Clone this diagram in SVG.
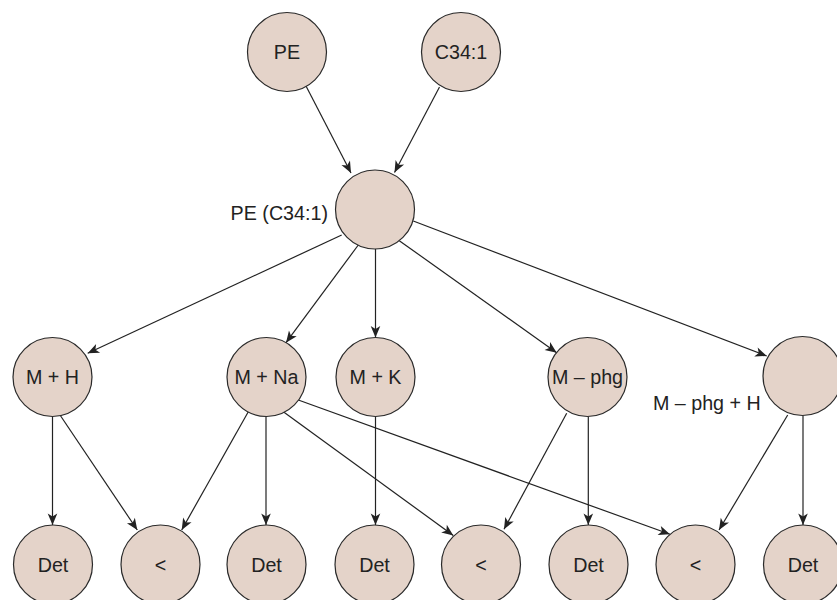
<svg xmlns="http://www.w3.org/2000/svg" width="837" height="600" viewBox="0 0 837 600">
<defs>
<style>
.node circle{fill:#e4d3c9;stroke:#2a2a2a;stroke-width:1.2}
text{font-family:"Liberation Sans",Arial,sans-serif;font-size:19.7px;fill:#222}
.c{text-anchor:middle}
.e{text-anchor:end}
#edges line{stroke:#222;stroke-width:1.2;marker-end:url(#arr)}
</style>
<marker id="arr" viewBox="-12 -6 13 12" refX="0" refY="0" markerWidth="13" markerHeight="12" markerUnits="userSpaceOnUse" orient="auto">
<path d="M0,0 L-11.5,-4.8 L-8.5,0 L-11.5,4.8 Z" fill="#222"/>
</marker>
</defs>
<rect width="837" height="600" fill="#fff"/>
<g id="edges">
<line x1="306" y1="86" x2="351" y2="173"/>
<line x1="439.5" y1="87" x2="394.5" y2="172.5"/>
<line x1="341.7" y1="235" x2="87.7" y2="353.3"/>
<line x1="358.3" y1="245" x2="286" y2="342.7"/>
<line x1="375.5" y1="249" x2="375.5" y2="337.5"/>
<line x1="399.3" y1="240.7" x2="556.7" y2="352.7"/>
<line x1="413.3" y1="221" x2="766.7" y2="356"/>
<line x1="52.5" y1="416" x2="52.5" y2="525"/>
<line x1="60" y1="415" x2="137.3" y2="530"/>
<line x1="248.3" y1="411.7" x2="181.7" y2="530"/>
<line x1="266" y1="416.5" x2="266" y2="525"/>
<line x1="283.3" y1="411.7" x2="453.3" y2="535.5"/>
<line x1="298.3" y1="400" x2="670" y2="534.3"/>
<line x1="375.5" y1="416.5" x2="375.5" y2="525"/>
<line x1="566.7" y1="413.3" x2="504" y2="529.3"/>
<line x1="588.3" y1="416.5" x2="588.3" y2="525"/>
<line x1="787.7" y1="415" x2="719" y2="530"/>
<line x1="803" y1="415.5" x2="803" y2="525"/>
</g>
<g id="n-pe" class="node"><circle cx="287" cy="52" r="39.5"/><text class="c" x="287" y="59">PE</text></g>
<g id="n-c34" class="node"><circle cx="461" cy="52" r="39.5"/><text class="c" x="461" y="59">C34:1</text></g>
<g id="n-pec34" class="node"><circle cx="375" cy="209.5" r="39.5"/><text class="e" x="328" y="220">PE (C34:1)</text></g>
<g id="n-mh" class="node"><circle cx="52.5" cy="377" r="39.5"/><text class="c" x="52.5" y="384">M + H</text></g>
<g id="n-mna" class="node"><circle cx="266.5" cy="377" r="39.5"/><text class="c" x="266.5" y="384">M + Na</text></g>
<g id="n-mk" class="node"><circle cx="375.5" cy="377" r="39.5"/><text class="c" x="375.5" y="384">M + K</text></g>
<g id="n-mphg" class="node"><circle cx="587.5" cy="377" r="39.5"/><text class="c" x="587.5" y="384">M – phg</text></g>
<g id="n-mphgh" class="node"><circle cx="802.5" cy="376" r="39.5"/><text class="e" x="760.7" y="410">M – phg + H</text></g>
<g id="n-det1" class="node"><circle cx="53" cy="564.5" r="39.5"/><text class="c" x="53" y="572">Det</text></g>
<g id="n-lt1" class="node"><circle cx="160.5" cy="564.5" r="39.5"/><text class="c" x="160.5" y="572">&lt;</text></g>
<g id="n-det2" class="node"><circle cx="266.5" cy="564.5" r="39.5"/><text class="c" x="266.5" y="572">Det</text></g>
<g id="n-det3" class="node"><circle cx="374.5" cy="564.5" r="39.5"/><text class="c" x="374.5" y="572">Det</text></g>
<g id="n-lt2" class="node"><circle cx="481" cy="564.5" r="39.5"/><text class="c" x="481" y="572">&lt;</text></g>
<g id="n-det4" class="node"><circle cx="588.5" cy="564.5" r="39.5"/><text class="c" x="588.5" y="572">Det</text></g>
<g id="n-lt3" class="node"><circle cx="695.5" cy="564.5" r="39.5"/><text class="c" x="695.5" y="572">&lt;</text></g>
<g id="n-det5" class="node"><circle cx="803" cy="564.5" r="39.5"/><text class="c" x="803" y="572">Det</text></g>
</svg>
